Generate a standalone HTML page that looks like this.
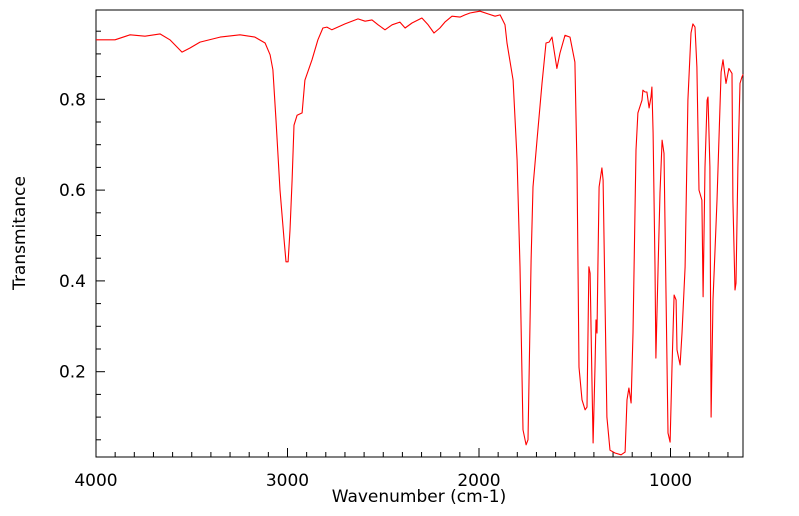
<!DOCTYPE html>
<html><head><meta charset="utf-8"><style>
body{margin:0;background:#fff;}
svg{display:block;font-family:"DejaVu Sans","Liberation Sans",sans-serif;}
</style></head><body>
<svg id="chart" width="799" height="516">
<rect x="96" y="10" width="647" height="447" fill="none" stroke="#000" stroke-width="1"/>
<g id="ticks"></g>
<polyline id="spectrum" fill="none" stroke="#ff0000" stroke-width="1.1" stroke-linejoin="round"/>
<text x="419" y="502" font-size="17" text-anchor="middle">Wavenumber (cm-1)</text>
<text transform="translate(25,233) rotate(-90)" font-size="17" text-anchor="middle">Transmitance</text>
</svg>
<script>
const wavenumbers = [4000,3901,3822,3744,3666,3614,3551,3509,3457,3352,3248,3170,3117,3091,3076,3060,3039,3018,3008,2997,2987,2976,2966,2950,2924,2909,2872,2841,2815,2794,2768,2700,2632,2595,2559,2527,2491,2454,2413,2386,2350,2298,2266,2235,2204,2178,2141,2099,2073,2047,2021,1995,1953,1916,1890,1864,1854,1822,1801,1786,1770,1754,1744,1728,1718,1697,1671,1650,1634,1619,1593,1577,1551,1525,1499,1488,1478,1462,1446,1436,1426,1420,1410,1404,1394,1389,1384,1379,1373,1358,1352,1342,1332,1316,1290,1258,1237,1227,1217,1206,1196,1180,1170,1149,1144,1133,1123,1112,1102,1097,1091,1081,1076,1065,1055,1044,1034,1023,1013,1002,992,981,971,966,950,940,924,909,893,883,872,862,851,836,830,820,809,804,794,788,778,768,757,736,726,710,695,679,674,663,658,648,637,627,621];
const transmittance = [0.931,0.931,0.942,0.939,0.944,0.931,0.904,0.913,0.926,0.937,0.942,0.937,0.924,0.898,0.865,0.754,0.600,0.490,0.442,0.442,0.512,0.622,0.743,0.765,0.770,0.842,0.887,0.931,0.957,0.959,0.953,0.966,0.977,0.972,0.975,0.964,0.953,0.964,0.970,0.957,0.968,0.979,0.964,0.946,0.957,0.970,0.983,0.981,0.986,0.990,0.992,0.994,0.988,0.983,0.986,0.964,0.924,0.842,0.666,0.431,0.072,0.039,0.050,0.446,0.607,0.710,0.835,0.924,0.926,0.937,0.868,0.902,0.941,0.937,0.882,0.651,0.210,0.138,0.116,0.122,0.431,0.417,0.175,0.043,0.210,0.314,0.285,0.431,0.607,0.649,0.622,0.358,0.100,0.027,0.021,0.017,0.023,0.138,0.164,0.131,0.285,0.688,0.770,0.798,0.820,0.816,0.816,0.781,0.805,0.827,0.726,0.431,0.230,0.431,0.594,0.710,0.681,0.358,0.065,0.045,0.210,0.369,0.358,0.248,0.215,0.285,0.431,0.798,0.946,0.966,0.959,0.871,0.600,0.578,0.365,0.651,0.798,0.805,0.651,0.100,0.358,0.461,0.578,0.860,0.887,0.835,0.868,0.857,0.578,0.380,0.395,0.651,0.835,0.849,0.855];
const xTickLabels = [4000,3000,2000,1000];
const yTickLabels = [0.2,0.4,0.6,0.8];

const X0=96, X1=743, Y0=457, Y1=10;
function xs(w){ return 96 + (4000 - w) * 0.1915; }
function ys(t){ return 99.3 + (0.8 - t) * 454; }

const svgNS="http://www.w3.org/2000/svg";
const pts = wavenumbers.map((w,i)=> xs(w).toFixed(1)+","+ys(transmittance[i]).toFixed(1)).join(" ");
document.getElementById("spectrum").setAttribute("points", pts);

const g=document.getElementById("ticks");
function line(x1,y1,x2,y2){
  const l=document.createElementNS(svgNS,"line");
  l.setAttribute("x1",x1);l.setAttribute("y1",y1);l.setAttribute("x2",x2);l.setAttribute("y2",y2);
  l.setAttribute("stroke","#000");l.setAttribute("stroke-width","1");
  
  
  g.appendChild(l);
}
function label(x,y,s,anchor){
  const t=document.createElementNS(svgNS,"text");
  t.setAttribute("x",x);t.setAttribute("y",y);t.setAttribute("font-size","17");
  t.setAttribute("text-anchor",anchor);
  t.textContent=s;
  
  
  g.appendChild(t);
}
for(let w=4000; w>=621; w-=100){
  const x=xs(w);
  const major = w%1000===0;
  line(x,Y0,x,Y0-(major?9:5));
}
xTickLabels.forEach(w=>label(xs(w),486,String(w),"middle"));
for(let k=1;k<20;k++){
  const t=k*0.05; const y=ys(t);
  if(y<Y1||y>Y0) continue;
  const major = k%4===0;
  line(X0,y,X0+(major?9:5),y);
}
yTickLabels.forEach(t=>label(86,ys(t)+6,t.toFixed(1),"end"));
</script>
</body></html>
